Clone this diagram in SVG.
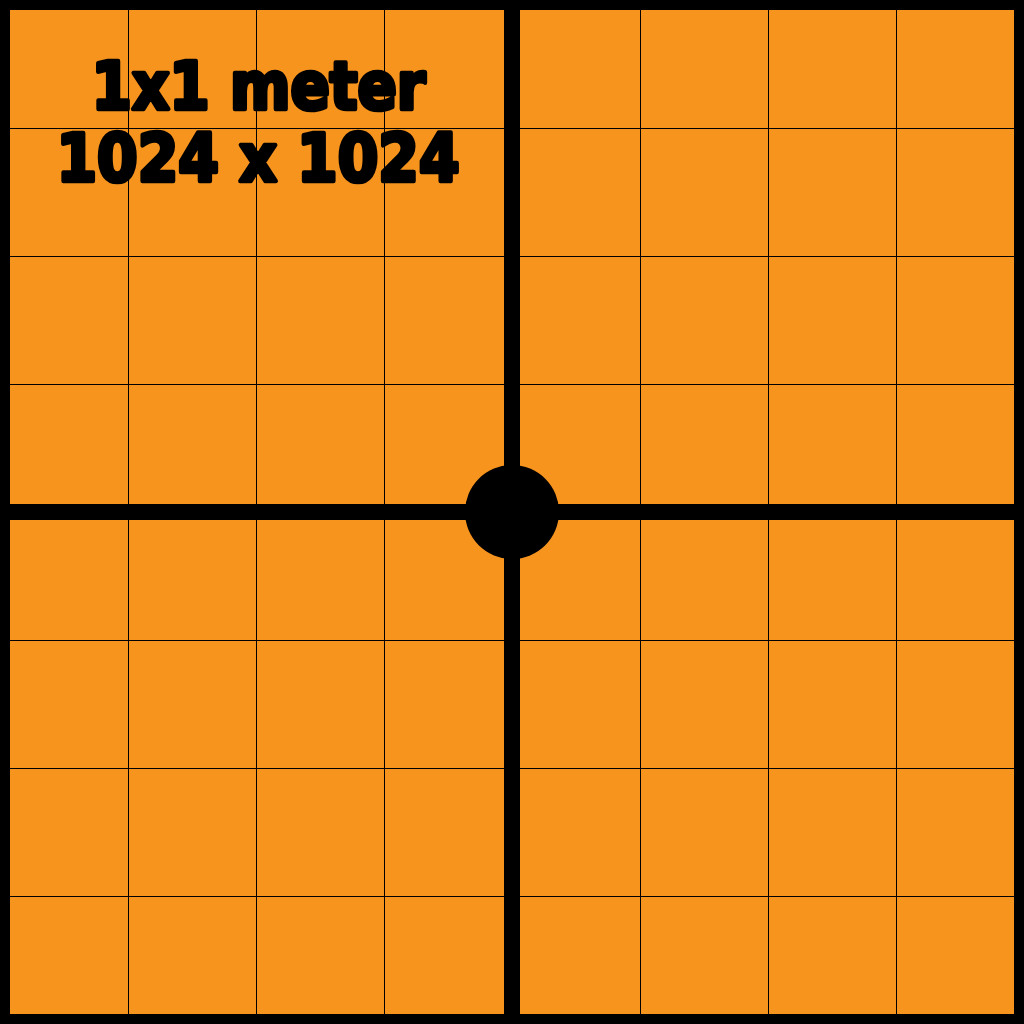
<svg xmlns="http://www.w3.org/2000/svg" width="1024" height="1024" viewBox="0 0 1024 1024">
<style>
.thin{stroke:#000;stroke-width:1;fill:none}
.thick{stroke:#000;stroke-width:16;fill:none}
.lbl{font-family:"DejaVu Sans","Liberation Sans",sans-serif;font-weight:bold;font-size:65px;fill:#000;stroke:#000;stroke-width:4.5;stroke-linejoin:round;text-anchor:middle}
</style>
<rect x="0" y="0" width="1024" height="1024" fill="#000"/>
<rect x="10" y="10" width="1004" height="1004" fill="#F7941E"/>
<g id="grid">
<path class="thin" d="M128.5 10V1014M256.5 10V1014M384.5 10V1014M640.5 10V1014M768.5 10V1014M896.5 10V1014M10 128.5H1014M10 256.5H1014M10 384.5H1014M10 640.5H1014M10 768.5H1014M10 896.5H1014"/>
</g>
<g id="axes">
<path class="thick" d="M512 10V1014M10 512H1014"/>
<circle cx="512" cy="512" r="47" fill="#000"/>
</g>
<g id="label">
<text class="lbl" x="258.5" y="109" textLength="334" lengthAdjust="spacingAndGlyphs">1x1 meter</text>
<text class="lbl" x="258" y="181" textLength="403" lengthAdjust="spacingAndGlyphs">1024 x 1024</text>
</g>
</svg>
